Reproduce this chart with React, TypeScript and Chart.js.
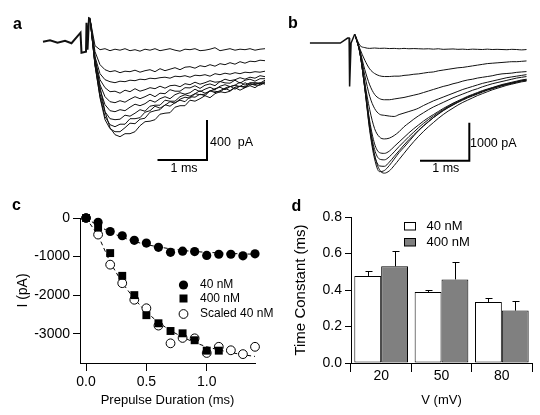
import React, { useEffect, useRef } from "react";
import { Chart, registerables } from "chart.js";

Chart.register(...registerables);

const FONT = '"Liberation Sans", Arial, Helvetica, sans-serif';

// ---------- Panels a & b : current traces (time in ms, current in pA) ----------
const TIME_MS = [0, 0.1, 0.2, 0.3, 0.4, 0.5, 0.6, 0.7, 0.8, 0.9, 1.0, 1.1, 1.2, 1.3, 1.4, 1.5, 1.6, 1.7, 1.8, 1.9, 2.0, 2.1, 2.2, 2.3, 2.4, 2.5, 2.6, 2.7, 2.8, 2.9, 3.0, 3.1, 3.2, 3.3, 3.4, 3.5];

// panel a (40 nM)
const A_ART_T = [-0.94, -0.8, -0.65, -0.5, -0.37, -0.19, -0.17, -0.08, -0.07, -0.05, -0.02, 0];
const A_ART_I = [0, 15, -10, 10, -15, 90, -110, -100, 190, -80, 234, 230];
const A_1 = [230, -40, -80, -70, -90, -75, -85, -70, -90, -80, -95, -75, -85, -70, -90, -80, -70, -85, -95, -75, -80, -70, -90, -85, -75, -60, -90, -80, -70, -85, -75, -80, -70, -85, -75, -70];
const A_2 = [230, -100, -230, -280, -300, -290, -310, -295, -300, -285, -305, -290, -280, -300, -270, -290, -275, -260, -280, -255, -250, -265, -240, -250, -230, -245, -220, -230, -210, -225, -200, -215, -195, -200, -185, -190];
const A_3 = [230, -150, -320, -380, -400, -410, -395, -400, -385, -390, -375, -380, -365, -370, -360, -355, -365, -345, -350, -340, -355, -335, -340, -330, -345, -320, -330, -315, -325, -310, -320, -305, -310, -300, -305, -295];
const A_4 = [230, -180, -380, -460, -500, -495, -515, -485, -500, -470, -495, -480, -460, -470, -445, -465, -440, -435, -450, -420, -430, -405, -425, -410, -390, -405, -400, -375, -390, -380, -360, -375, -355, -365, -340, -350];
const A_5 = [230, -200, -430, -550, -600, -610, -590, -605, -575, -550, -570, -550, -525, -550, -515, -520, -480, -495, -495, -460, -462, -440, -467, -435, -422, -440, -398, -412, -415, -385, -415, -385, -375, -395, -370, -370];
const A_6 = [230, -220, -480, -630, -690, -700, -680, -690, -655, -625, -640, -620, -585, -605, -570, -550, -570, -530, -510, -525, -510, -475, -500, -475, -455, -480, -445, -430, -450, -435, -405, -435, -410, -410, -415, -385];
const A_7 = [230, -230, -520, -700, -770, -780, -775, -735, -745, -715, -680, -695, -645, -635, -635, -585, -595, -595, -550, -530, -545, -520, -490, -515, -495, -470, -455, -480, -450, -435, -450, -410, -435, -415, -420, -400];
const A_8 = [230, -240, -550, -750, -830, -850, -825, -825, -770, -770, -760, -705, -690, -645, -665, -635, -600, -615, -575, -555, -565, -520, -530, -525, -490, -495, -505, -465, -445, -475, -445, -450, -420, -430, -410, -425];
const A_9 = [230, -230, -560, -780, -870, -900, -900, -860, -815, -820, -775, -765, -705, -690, -680, -630, -645, -610, -585, -600, -550, -555, -525, -540, -490, -510, -490, -465, -490, -455, -445, -460, -420, -435, -435, -410];
const A_10 = [230, -150, -450, -700, -860, -930, -950, -920, -920, -900, -840, -800, -795, -780, -725, -715, -710, -655, -640, -640, -585, -595, -570, -540, -560, -520, -500, -510, -495, -460, -485, -460, -440, -460, -425, -410];
const A_TRACES = [A_1, A_2, A_3, A_4, A_5, A_6, A_7, A_8, A_9, A_10];
const A_BAR = { t0: 1.35, t1: 2.34, i0: -1183, i1: -783 }; // 1 ms, 400 pA

// panel b (400 nM)
const B_ART_T = [-0.92, -0.3, -0.15, -0.12, -0.11, -0.08, -0.01, 0];
const B_ART_I = [0, 0, 130, 130, -1140, 0, 220, 220];
const B_1 = [220, -60, -120, -140, -130, -140, -135, -145, -140, -150, -140, -150, -145, -150, -155, -150, -160, -150, -165, -160, -155, -165, -160, -170, -160, -165, -170, -160, -170, -165, -170, -175, -165, -170, -180, -170];
const B_2 = [220, -150, -450, -680, -800, -860, -880, -880, -870, -870, -850, -840, -820, -810, -790, -770, -760, -730, -710, -690, -670, -650, -640, -620, -600, -580, -560, -540, -530, -520, -510, -500, -490, -490, -480, -470];
const B_3 = [220, -200, -700, -1100, -1350, -1460, -1490, -1490, -1470, -1450, -1430, -1400, -1370, -1340, -1300, -1260, -1220, -1180, -1140, -1110, -1070, -1040, -1000, -970, -950, -920, -900, -880, -860, -830, -810, -800, -790, -770, -760, -750];
const B_4 = [220, -220, -850, -1400, -1720, -1870, -1900, -1920, -1930, -1880, -1840, -1800, -1760, -1710, -1640, -1580, -1520, -1470, -1420, -1370, -1320, -1270, -1220, -1180, -1140, -1100, -1060, -1030, -1000, -970, -940, -910, -890, -870, -850, -830];
const B_5 = [220, -250, -1050, -1750, -2250, -2470, -2520, -2500, -2430, -2330, -2200, -2100, -2000, -1910, -1830, -1750, -1680, -1620, -1560, -1500, -1440, -1390, -1340, -1290, -1240, -1200, -1150, -1110, -1070, -1040, -1010, -980, -950, -920, -900, -880];
const B_6 = [220, -270, -1150, -2050, -2650, -2880, -2900, -2840, -2720, -2600, -2480, -2360, -2250, -2150, -2050, -1960, -1880, -1800, -1720, -1650, -1580, -1520, -1460, -1400, -1350, -1300, -1250, -1210, -1170, -1130, -1090, -1060, -1030, -1000, -970, -950];
const B_7 = [220, -260, -1180, -2150, -2800, -3050, -3070, -2990, -2860, -2720, -2590, -2460, -2340, -2220, -2110, -2010, -1920, -1830, -1750, -1670, -1600, -1540, -1480, -1420, -1370, -1320, -1270, -1230, -1190, -1150, -1110, -1080, -1050, -1020, -990, -970];
const B_8 = [220, -250, -1200, -2250, -2950, -3230, -3240, -3130, -2980, -2830, -2680, -2540, -2410, -2290, -2170, -2060, -1960, -1870, -1780, -1700, -1630, -1560, -1500, -1440, -1390, -1340, -1290, -1240, -1200, -1160, -1120, -1090, -1060, -1030, -1000, -980];
const B_9 = [220, -250, -1200, -2300, -3050, -3380, -3350, -3220, -3050, -2880, -2740, -2590, -2440, -2300, -2180, -2070, -1960, -1860, -1770, -1690, -1620, -1550, -1480, -1420, -1370, -1320, -1270, -1220, -1180, -1140, -1110, -1080, -1050, -1020, -990, -970];
const B_10 = [220, -200, -1050, -2150, -2950, -3330, -3420, -3360, -3220, -3060, -2900, -2740, -2590, -2450, -2320, -2200, -2090, -1980, -1880, -1790, -1710, -1630, -1560, -1500, -1440, -1380, -1330, -1280, -1230, -1190, -1150, -1110, -1080, -1050, -1020, -1000];
const B_TRACES = [B_1, B_2, B_3, B_4, B_5, B_6, B_7, B_8, B_9, B_10];
const B_BAR = { t0: 1.327, t1: 2.333, i0: -3097, i1: -2097 }; // 1 ms, 1000 pA

// ---------- Panel c ----------
const C_T = [0, 0.1, 0.2, 0.3, 0.4, 0.5, 0.6, 0.7, 0.8, 0.9, 1.0, 1.1, 1.2, 1.3, 1.4];
const C_40 = [0, -110, -350, -460, -580, -650, -760, -890, -860, -870, -970, -940, -940, -980, -930];
const C_400_T = [0, 0.1, 0.2, 0.3, 0.4, 0.5, 0.6, 0.7, 0.8, 0.9, 1.0, 1.1];
const C_400 = [0, -250, -910, -1500, -2000, -2520, -2730, -2930, -2990, -3170, -3440, -3440];
const C_SCALED = [0, -430, -1210, -1690, -2120, -2340, -2790, -3250, -3110, -3120, -3500, -3340, -3430, -3530, -3340];
const C_FIT_40 = [0, -200, -370, -500, -610, -690, -750, -800, -840, -870, -890, -905, -920, -930, -940];
const C_FIT_400 = [0, -450, -1150, -1680, -2100, -2440, -2710, -2920, -3090, -3230, -3340, -3420, -3490, -3545, -3590];
const C_XTICKS = [0, 0.5, 1.0];
const C_YTICKS = [0, -1000, -2000, -3000];

// ---------- Panel d ----------
const D_V = ["20", "50", "80"];
const D_40 = [0.477, 0.389, 0.334];
const D_40_ERR = [0.027, 0.013, 0.022];
const D_400 = [0.53, 0.458, 0.287];
const D_400_ERR = [0.084, 0.095, 0.055];

const BASE_OPTS = {
  animation: false,
  responsive: false,
  maintainAspectRatio: false,
  events: [] as string[],
};

function traceConfig(
  traces: number[][],
  artT: number[],
  artI: number[],
  bar: { t0: number; t1: number; i0: number; i1: number },
  xr: [number, number],
  yr: [number, number],
  smooth: boolean,
  artWidth: number
) {
  const datasets: any[] = traces.map((vals) => ({
    data: TIME_MS.map((t, i) => ({ x: t, y: vals[i] })),
    showLine: true,
    borderColor: "#111",
    borderWidth: 1,
    pointRadius: 0,
    tension: 0,
    cubicInterpolationMode: smooth ? "monotone" : "default",
  }));
  datasets.push({
    data: artT.map((t, i) => ({ x: t, y: artI[i] })),
    showLine: true,
    borderColor: "#111",
    borderWidth: artWidth,
    pointRadius: 0,
  });
  datasets.push({
    data: [
      { x: bar.t0, y: bar.i0 },
      { x: bar.t1, y: bar.i0 },
      { x: bar.t1, y: bar.i1 },
    ],
    showLine: true,
    borderColor: "#000",
    borderWidth: 2,
    borderJoinStyle: "miter",
    pointRadius: 0,
  });
  return {
    type: "scatter",
    data: { datasets },
    options: {
      ...BASE_OPTS,
      layout: { padding: 0 },
      plugins: { legend: { display: false }, tooltip: { enabled: false } },
      scales: {
        x: { type: "linear", display: false, min: xr[0], max: xr[1] },
        y: { type: "linear", display: false, min: yr[0], max: yr[1] },
      },
    },
  };
}

const legendC = {
  id: "legendC",
  afterDraw(chart: any) {
    const ctx = chart.ctx;
    ctx.save();
    const x = 183.5;
    ctx.fillStyle = "#000";
    ctx.beginPath();
    ctx.arc(x, 95, 4.6, 0, Math.PI * 2);
    ctx.fill();
    ctx.fillRect(x - 4, 108.5 - 4, 8, 8);
    ctx.beginPath();
    ctx.arc(x, 124, 4.4, 0, Math.PI * 2);
    ctx.fillStyle = "#fff";
    ctx.fill();
    ctx.strokeStyle = "#000";
    ctx.lineWidth = 1;
    ctx.stroke();
    ctx.fillStyle = "#000";
    ctx.font = `12px ${FONT}`;
    ctx.textBaseline = "middle";
    ctx.textAlign = "left";
    ctx.fillText("40 nM", 200, 95);
    ctx.fillText("400 nM", 200, 108.5);
    ctx.fillText("Scaled 40 nM", 200, 124);
    ctx.restore();
  },
};

function configC() {
  const pts = (xs: number[], ys: number[]) => ys.map((y, i) => ({ x: xs[i], y }));
  return {
    type: "scatter",
    data: {
      datasets: [
        {
          label: "400 nM",
          data: pts(C_400_T, C_400),
          pointStyle: "rect",
          pointRadius: 5.6,
          backgroundColor: "#000",
          borderColor: "#000",
          borderWidth: 0,
          clip: false,
        },
        {
          label: "40 nM",
          data: pts(C_T, C_40),
          pointStyle: "circle",
          pointRadius: 4.6,
          backgroundColor: "#000",
          borderColor: "#000",
          borderWidth: 0,
          clip: false,
        },
        {
          label: "Scaled 40 nM",
          data: pts(C_T, C_SCALED),
          pointStyle: "circle",
          pointRadius: 4.4,
          backgroundColor: "#fff",
          borderColor: "#000",
          borderWidth: 1,
          clip: false,
        },
        {
          label: "fit 40",
          data: pts(C_T, C_FIT_40),
          showLine: true,
          pointRadius: 0,
          borderColor: "#000",
          borderWidth: 1,
          borderDash: [4, 3],
        },
        {
          label: "fit 400",
          data: pts(C_T, C_FIT_400),
          showLine: true,
          pointRadius: 0,
          borderColor: "#000",
          borderWidth: 1,
          borderDash: [4, 3],
        },
      ],
    },
    options: {
      ...BASE_OPTS,
      layout: { padding: { left: 0, top: 28, right: 25, bottom: 0 } },
      plugins: { legend: { display: false }, tooltip: { enabled: false } },
      scales: {
        x: {
          type: "linear",
          min: -0.05,
          max: 1.4,
          afterBuildTicks: (s: any) => {
            s.ticks = C_XTICKS.map((v) => ({ value: v }));
          },
          afterFit: (s: any) => {
            s.height = 52;
          },
          ticks: {
            color: "#000",
            font: { family: FONT, size: 14 },
            padding: 3,
            maxRotation: 0,
            callback: (v: any) => Number(v).toFixed(1),
          },
          grid: { display: true, drawOnChartArea: false, drawTicks: true, tickLength: 8, color: "#000" },
          border: { display: true, color: "#000", width: 1 },
          title: {
            display: true,
            text: "Prepulse Duration (ms)",
            color: "#000",
            font: { family: FONT, size: 13 },
            padding: { top: 0, bottom: 7 },
          },
        },
        y: {
          type: "linear",
          min: -3760,
          max: 0,
          afterBuildTicks: (s: any) => {
            s.ticks = C_YTICKS.map((v) => ({ value: v }));
          },
          afterFit: (s: any) => {
            s.width = 80;
          },
          ticks: {
            color: "#000",
            font: { family: FONT, size: 14 },
            padding: 3,
            callback: (v: any) => String(v),
          },
          grid: { display: true, drawOnChartArea: false, drawTicks: true, tickLength: 7, color: "#000" },
          border: { display: true, color: "#000", width: 1 },
          title: {
            display: true,
            text: "I (pA)",
            color: "#000",
            font: { family: FONT, size: 14 },
            padding: { top: 15, bottom: 0 },
          },
        },
      },
    },
    plugins: [legendC],
  };
}

const errorBarsD = {
  id: "errorBarsD",
  afterDatasetsDraw(chart: any) {
    const ctx = chart.ctx;
    const yScale = chart.scales.y;
    const errs = [D_40_ERR, D_400_ERR];
    ctx.save();
    ctx.strokeStyle = "#000";
    ctx.lineWidth = 1;
    [0, 1].forEach((di) => {
      const meta = chart.getDatasetMeta(di);
      const vals = chart.data.datasets[di].data as number[];
      meta.data.forEach((bar: any, i: number) => {
        const x = Math.round(bar.x) + 0.5;
        const y0 = bar.y;
        const y1 = Math.round(yScale.getPixelForValue(vals[i] + errs[di][i])) + 0.5;
        ctx.beginPath();
        ctx.moveTo(x, y0);
        ctx.lineTo(x, y1);
        ctx.moveTo(x - 3, y1);
        ctx.lineTo(x + 4, y1);
        ctx.stroke();
      });
    });
    ctx.restore();
  },
};

const legendD = {
  id: "legendD",
  afterDraw(chart: any) {
    const ctx = chart.ctx;
    ctx.save();
    ctx.lineWidth = 1;
    ctx.strokeStyle = "#000";
    ctx.fillStyle = "#fff";
    ctx.fillRect(124.5, 32.5, 11, 7.5);
    ctx.strokeRect(124.5, 32.5, 11, 7.5);
    ctx.fillStyle = "#808080";
    ctx.fillRect(124.5, 48.5, 11, 7.5);
    ctx.strokeRect(124.5, 48.5, 11, 7.5);
    ctx.fillStyle = "#000";
    ctx.font = `13px ${FONT}`;
    ctx.textBaseline = "middle";
    ctx.textAlign = "left";
    ctx.fillText("40 nM", 146.5, 36);
    ctx.fillText("400 nM", 146.5, 52);
    ctx.restore();
  },
};

function configD() {
  return {
    type: "bar",
    data: {
      labels: D_V,
      datasets: [
        {
          label: "40 nM",
          data: D_40,
          backgroundColor: "#ffffff",
          borderColor: "#000",
          borderWidth: 1,
          borderSkipped: false,
          categoryPercentage: 0.89,
          barPercentage: 1.0,
        },
        {
          label: "400 nM",
          data: D_400,
          backgroundColor: "#808080",
          borderColor: "#000",
          borderWidth: 1,
          borderSkipped: false,
          categoryPercentage: 0.89,
          barPercentage: 1.0,
        },
      ],
    },
    options: {
      ...BASE_OPTS,
      layout: { padding: { left: 0, top: 27, right: 8, bottom: 0 } },
      plugins: { legend: { display: false }, tooltip: { enabled: false } },
      scales: {
        x: {
          afterFit: (s: any) => {
            s.height = 52;
          },
          ticks: {
            color: "#000",
            font: { family: FONT, size: 14 },
            padding: -4,
            maxRotation: 0,
          },
          grid: { display: true, drawOnChartArea: false, drawTicks: true, tickLength: 9, offset: true, color: "#000" },
          border: { display: true, color: "#000", width: 1 },
          title: {
            display: true,
            text: "V (mV)",
            color: "#000",
            font: { family: FONT, size: 13 },
            padding: { top: 0, bottom: 7 },
          },
        },
        y: {
          min: 0,
          max: 0.8,
          afterFit: (s: any) => {
            s.width = 71;
          },
          ticks: {
            stepSize: 0.2,
            color: "#000",
            font: { family: FONT, size: 14 },
            padding: 3,
            callback: (v: any) => Number(v).toFixed(1),
          },
          grid: { display: true, drawOnChartArea: false, drawTicks: true, tickLength: 6, color: "#000" },
          border: { display: true, color: "#000", width: 1 },
          title: {
            display: true,
            text: "Time Constant (ms)",
            color: "#000",
            font: { family: FONT, size: 15 },
            padding: { top: 12, bottom: 0 },
          },
        },
      },
    },
    plugins: [errorBarsD, legendD],
  };
}

function ChartBox(props: { left: number; top: number; width: number; height: number; make: () => any }) {
  const { left, top, width, height, make } = props;
  const ref = useRef<HTMLCanvasElement | null>(null);
  useEffect(() => {
    if (!ref.current) return;
    const chart = new Chart(ref.current, make());
    return () => chart.destroy();
  }, [make]);
  return (
    <canvas
      ref={ref}
      width={width}
      height={height}
      style={{ position: "absolute", left, top, width, height, display: "block" }}
    />
  );
}

const makeA = () => traceConfig(A_TRACES, A_ART_T, A_ART_I, A_BAR, [-1.8, 3.6], [-1483, 417], false, 2);
const makeB = () =>
  traceConfig(B_TRACES, B_ART_T, B_ART_I, B_BAR, [-85 / 49, 185 / 49], [-3863, 1132], true, 1.5);

function Label(props: { x: number; y: number; text: string; size?: number; bold?: boolean; center?: boolean }) {
  const { x, y, text, size = 13, bold = false, center = false } = props;
  return (
    <div
      style={{
        position: "absolute",
        left: x,
        top: y,
        fontFamily: FONT,
        fontSize: size,
        fontWeight: bold ? "bold" : "normal",
        lineHeight: `${size}px`,
        whiteSpace: "pre",
        color: "#000",
        transform: center ? "translateX(-50%)" : undefined,
      }}
    >
      {text}
    </div>
  );
}

export default function App() {
  return (
    <div
      style={{
        position: "absolute",
        left: 0,
        top: 0,
        width: 540,
        height: 415,
        background: "#fff",
        overflow: "hidden",
      }}
    >
      <ChartBox left={0} top={0} width={270} height={190} make={makeA} />
      <ChartBox left={270} top={0} width={270} height={190} make={makeB} />
      <ChartBox left={0} top={190} width={280} height={225} make={configC} />
      <ChartBox left={280} top={190} width={260} height={225} make={configD} />
      <Label x={13} y={15.5} text="a" size={16} bold />
      <Label x={288} y={14.8} text="b" size={16} bold />
      <Label x={12} y={196.5} text="c" size={16} bold />
      <Label x={291.5} y={198} text="d" size={16} bold />
      <Label x={210} y={135.5} text={"400  pA"} size={12.5} />
      <Label x={184} y={162} text="1 ms" size={12.5} center />
      <Label x={470} y={137} text="1000 pA" size={12.5} />
      <Label x={445.8} y={162} text="1 ms" size={12.5} center />
    </div>
  );
}
